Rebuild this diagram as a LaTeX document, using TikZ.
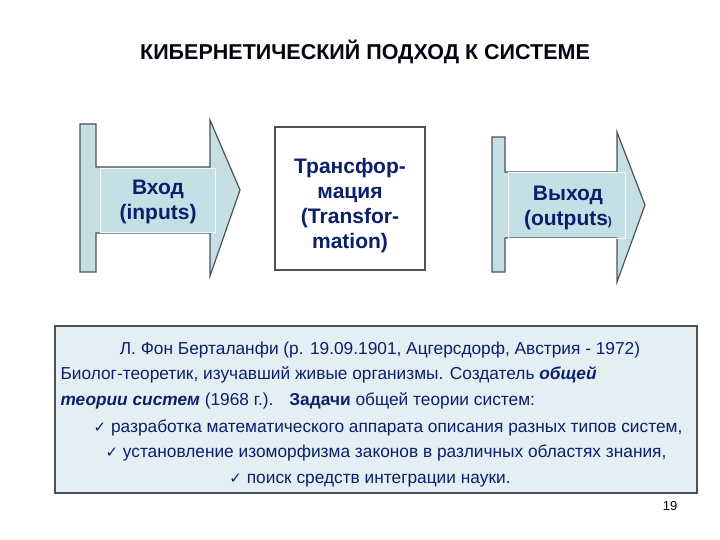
\documentclass[tikz,border=0pt]{standalone}
\usepackage{fontspec}
\setmainfont{Liberation Sans}
\newfontfamily\djvfont{DejaVu Sans}
\definecolor{navy}{HTML}{0B1F6B}
\definecolor{teal}{HTML}{C5DFE5}
\definecolor{edge}{HTML}{4A5458}
\definecolor{panel}{HTML}{E4EFF3}
\newcommand{\ck}{{\djvfont\fontsize{15}{15}\selectfont ✓}}
\begin{document}
\begin{tikzpicture}[x=1pt,y=-1pt,
  arrowshape/.style={fill=teal,draw=edge,line width=1.2pt,line join=miter},
  inner/.style={draw=white!85!teal,line width=0.6pt},
  boxtext/.style={text=navy,font=\bfseries\fontsize{21}{25}\selectfont,align=center},
  bodytext/.style={text=navy,font=\fontsize{17.3}{20}\selectfont,anchor=base}]
\useasboundingbox[fill=white] (0,0) rectangle (720,540);
\node[font=\bfseries\fontsize{21.5}{24}\selectfont,text=black!85!navy] (title) at (365,52) {КИБЕРНЕТИЧЕСКИЙ ПОДХОД К СИСТЕМЕ};
% left arrow
\draw[arrowshape] (80,124) -- (96,124) -- (96,167) -- (210,167) -- (210,120) -- (240,190) -- (210,276) -- (210,233) -- (96,233) -- (96,272) -- (80,272) -- cycle;
\draw[inner] (100,168) rectangle (215,232);
\node[boxtext] (in) at (158,202) {Вход\\(inputs)};
% middle
\node[draw=edge,line width=1.2pt,fill=white,minimum width=150,minimum height=143] (tr) at (350,198.5) {};
\node[boxtext] (trt) at (350,206) {Трансфор-\\мация\\(Transfor-\\mation)};
% right arrow
\draw[arrowshape] (492,137) -- (505,137) -- (505,172) -- (617,172) -- (617,132) -- (645,205) -- (617,282) -- (617,238) -- (505,238) -- (505,272) -- (492,272) -- cycle;
\draw[inner] (508,172) rectangle (625,238);
\node[boxtext] (out) at (568,208) {Выход\\(outputs{\fontsize{12}{12}\selectfont)}};
% panel
\draw[fill=panel,draw=edge,line width=1.6pt] (55,326) rectangle (697,493);
\node[bodytext] (l1) at (380,354) {Л. Фон Берталанфи (р. 19.09.1901, Ацгерсдорф, Австрия - 1972)};
\node[bodytext,anchor=base west] (l2) at (57,379) {Биолог-теоретик, изучавший живые организмы. Создатель \textbf{\textit{общей}}};
\node[bodytext,anchor=base west] (l3) at (57,405) {\textbf{\textit{теории систем}} (1968 г.).\hspace{16pt}\textbf{Задачи} общей теории систем:};
\node[bodytext] (l4) at (388,432) {\ck\ разработка математического аппарата описания разных типов систем,};
\node[bodytext] (l5) at (386,457) {\ck\ установление изоморфизма законов в различных областях знания,};
\node[bodytext] (l6) at (370,483) {\ck\ поиск средств интеграции науки.};
\node[font=\fontsize{13}{14}\selectfont] (pg) at (670,506) {19};
\end{tikzpicture}
\end{document}
